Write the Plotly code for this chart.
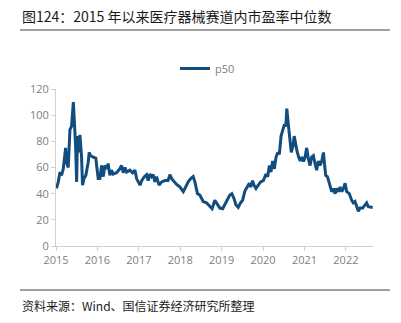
import plotly.graph_objects as go

dates = [
    "2015-01-05","2015-01-21","2015-02-05","2015-02-19","2015-03-06","2015-03-27","2015-04-04","2015-04-19",
    "2015-05-04","2015-05-18","2015-06-03","2015-06-11","2015-06-23","2015-07-02","2015-07-10","2015-07-22",
    "2015-07-31","2015-08-14","2015-08-23","2015-09-04","2015-09-21","2015-10-12","2015-10-21","2015-11-02",
    "2015-11-25","2015-12-18","2016-01-08","2016-01-23","2016-02-07","2016-02-22","2016-03-07","2016-03-22",
    "2016-04-05","2016-04-20","2016-05-05","2016-05-19","2016-06-18","2016-07-17","2016-08-01","2016-08-16",
    "2016-08-31","2016-09-15","2016-10-14","2016-11-07","2016-11-27","2016-12-12","2017-01-11","2017-01-26",
    "2017-02-18","2017-03-10","2017-03-24","2017-04-08","2017-04-23","2017-05-07","2017-05-22","2017-06-06",
    "2017-06-28","2017-07-21","2017-08-19","2017-09-15","2017-10-02","2017-10-17","2017-11-10","2017-11-30",
    "2017-12-30","2018-01-28","2018-02-17","2018-03-12","2018-04-04","2018-04-25","2018-05-10","2018-06-02",
    "2018-06-23","2018-07-22","2018-08-20","2018-09-18","2018-10-09","2018-11-02","2018-11-25","2018-12-16",
    "2019-01-10","2019-01-30","2019-02-20","2019-03-14","2019-04-01","2019-04-19","2019-05-07","2019-05-27",
    "2019-06-17","2019-07-05","2019-07-25","2019-08-15","2019-09-02","2019-09-14","2019-10-01","2019-10-13",
    "2019-10-31","2019-11-20","2019-12-11","2020-01-04","2020-01-27","2020-02-11","2020-02-26","2020-03-11",
    "2020-03-26","2020-04-10","2020-04-25","2020-05-10","2020-05-24","2020-06-08","2020-06-23","2020-07-08",
    "2020-07-20","2020-07-29","2020-08-07","2020-08-16","2020-08-28","2020-09-06","2020-09-21","2020-10-02",
    "2020-10-14","2020-10-26","2020-11-10","2020-11-24","2020-12-09","2020-12-23","2021-01-06","2021-01-20",
    "2021-02-04","2021-02-19","2021-03-05","2021-03-20","2021-04-04","2021-04-18","2021-05-03","2021-05-18",
    "2021-06-02","2021-06-17","2021-06-26","2021-07-07","2021-07-22","2021-08-03","2021-08-15","2021-08-29",
    "2021-09-13","2021-09-28","2021-10-12","2021-10-27","2021-11-11","2021-11-26","2021-12-10","2021-12-25",
    "2022-01-08","2022-01-31","2022-02-21","2022-03-07","2022-03-22","2022-04-06","2022-04-21","2022-05-05",
    "2022-05-29","2022-06-19","2022-07-03","2022-07-18","2022-08-08","2022-08-25",
]
p50 = [
    44, 49, 56.5, 54, 59, 75, 64, 60,
    89, 91.5, 110, 96.5, 76.5, 49, 84, 71.5,
    85, 69, 46.5, 51.5, 54, 64, 71.5, 69,
    68, 67, 51.5, 51.5, 61.5, 53, 61.5, 59,
    63, 54, 58, 55, 56, 59, 61.5, 56,
    60, 56.5, 58, 56, 58, 51.5, 46.5, 50,
    53, 54.5, 50, 55, 53, 54.5, 49, 53,
    46.5, 49, 50, 50, 54.5, 51.5, 49, 47,
    45, 41.5, 45, 49, 51.5, 53, 49, 40,
    39, 34, 33, 30, 28.5, 35, 31.5, 29,
    28.5, 31.5, 35, 39, 40, 36.5, 31.5, 29.5,
    33, 35, 42, 45, 48, 45, 50, 46.5,
    44, 46.5, 49, 50, 55, 53, 61.5, 56.5,
    65, 59, 68, 71.5, 70, 84, 89, 93,
    91.5, 105, 96.5, 86.5, 79, 71.5, 76.5, 84,
    76.5, 72.8, 68, 65, 68, 64.5, 68, 75,
    66.5, 61.5, 68, 69, 63, 58, 65, 61.5,
    65, 71.5, 63, 54, 53, 49, 46.5, 41.5,
    44, 40, 44, 41.5, 45, 41.5, 44, 48,
    41.5, 40, 35, 33, 34, 30, 26.5, 29,
    29, 31.5, 33, 30, 30, 29.5,
]
x_ticks = ["2015-01-01","2016-01-01","2017-01-01","2018-01-01","2019-01-01","2020-01-01","2021-01-01","2022-01-01"]
x_tick_labels = ["2015","2016","2017","2018","2019","2020","2021","2022"]
y_ticks = [0, 20, 40, 60, 80, 100, 120]

W, H = 401, 323
ml, mr, mt, mb = 56, 28, 89, 77
CJK = "Noto Sans CJK SC"
tick_font = dict(family="Open Sans, Noto Sans", size=11, color="#808080")

fig = go.Figure()
fig.add_trace(go.Scatter(x=dates, y=p50, mode="lines", name="p50",
                         line=dict(color="#124d80", width=3)))

fig.update_layout(
    width=W, height=H,
    margin=dict(l=ml, r=mr, t=mt, b=mb),
    paper_bgcolor="white", plot_bgcolor="white",
    showlegend=True,
    legend=dict(orientation="h", x=(180 - 5 - ml) / (W - ml - mr), xanchor="left",
                y=1 + (89 - 63 + 9) / (H - mt - mb), yanchor="top",
                font=dict(family="Open Sans, Noto Sans", size=11, color="#808080"),
                bgcolor="rgba(0,0,0,0)"),
    xaxis=dict(type="date", range=["2015-01-01", "2022-08-28"],
               tickvals=x_ticks, ticktext=x_tick_labels,
               showgrid=False, showline=True, linecolor="#d0d0d0", linewidth=1,
               ticks="outside", ticklen=4, tickcolor="#d0d0d0",
               tickfont=tick_font, zeroline=False),
    yaxis=dict(range=[0, 120], tickvals=y_ticks, showgrid=False,
               showline=True, linecolor="#d0d0d0", linewidth=1,
               ticks="outside", ticklen=4, tickcolor="#d0d0d0",
               tickfont=tick_font, zeroline=False),
    shapes=[
        dict(type="line", xref="paper", yref="paper",
             x0=(20 - ml) / (W - ml - mr), x1=(390 - ml) / (W - ml - mr),
             y0=1 + (mt - 30) / (H - mt - mb), y1=1 + (mt - 30) / (H - mt - mb),
             line=dict(color="#404040", width=1)),
        dict(type="line", xref="paper", yref="paper",
             x0=(20 - ml) / (W - ml - mr), x1=(390 - ml) / (W - ml - mr),
             y0=-(290 - (H - mb)) / (H - mt - mb), y1=-(290 - (H - mb)) / (H - mt - mb),
             line=dict(color="#404040", width=1)),
    ],
    annotations=[
        dict(text="图124：2015 年以来医疗器械赛道内市盈率中位数", xref="paper", yref="paper",
             x=(20 - ml) / (W - ml - mr), y=1 + (mt - 16) / (H - mt - mb),
             xanchor="left", yanchor="middle", showarrow=False,
             font=dict(family=CJK, size=14, color="#1a1a1a")),
        dict(text="资料来源：Wind、国信证券经济研究所整理", xref="paper", yref="paper",
             x=(20 - ml) / (W - ml - mr), y=-(305 - (H - mb)) / (H - mt - mb),
             xanchor="left", yanchor="middle", showarrow=False,
             font=dict(family=CJK, size=12, color="#1a1a1a")),
    ],
)

fig.write_html("out.html")
